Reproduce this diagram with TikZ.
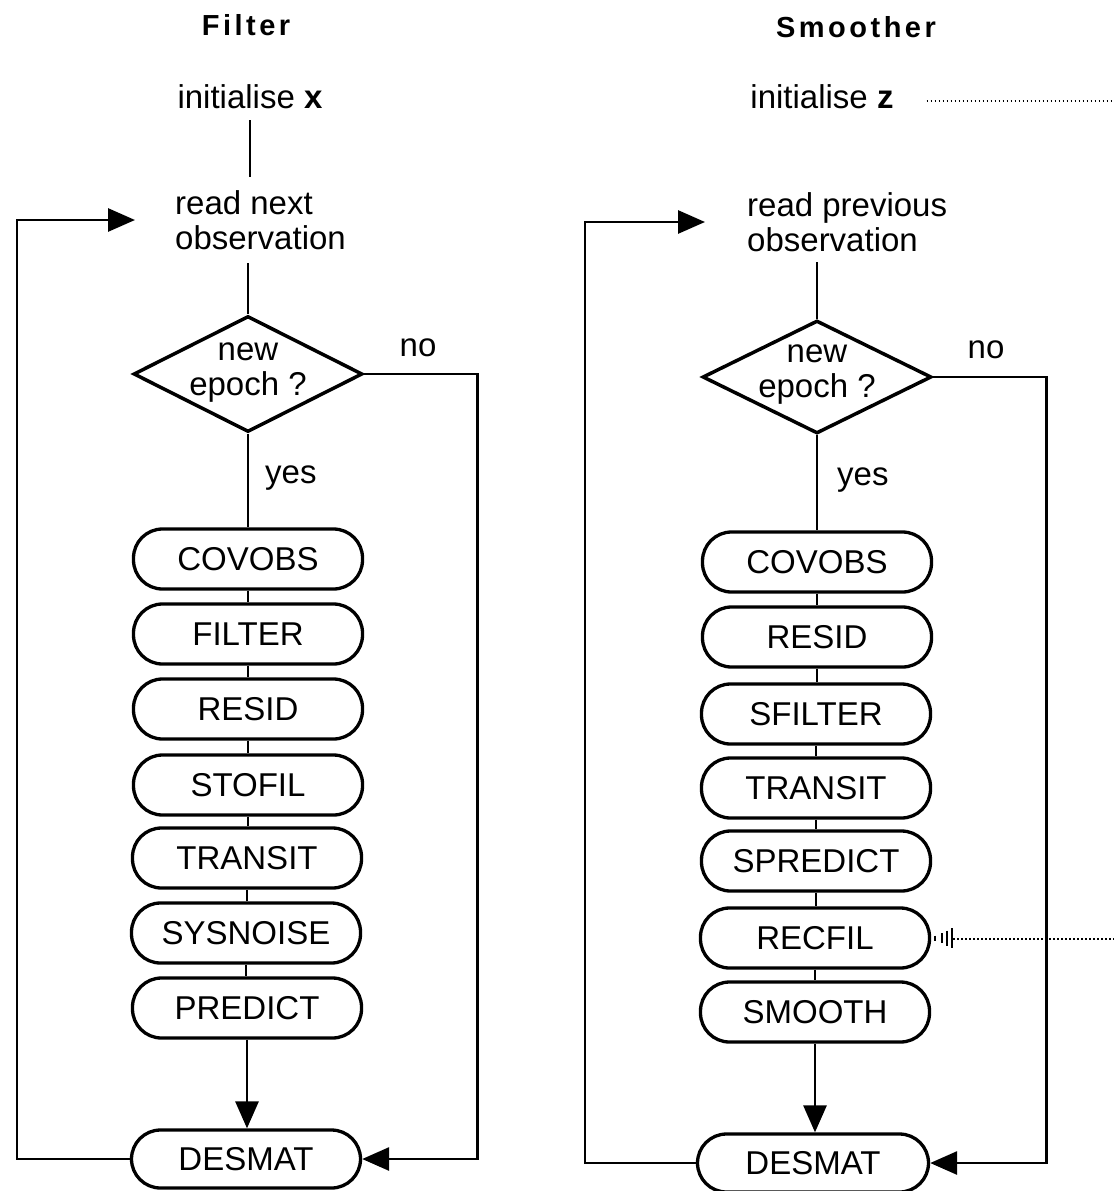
\documentclass[tikz,border=0pt]{standalone}
\usepackage{fontspec}
\setmainfont{Liberation Sans}
\usetikzlibrary{shapes.geometric,arrows.meta}
\newcommand{\lbl}{\fontsize{33}{35}\selectfont}
\newcommand{\ttl}{\fontsize{29}{33}\selectfont\bfseries\addfontfeatures{LetterSpace=12}}
\begin{document}
\begin{tikzpicture}[x=1pt,y=-1pt,
  proc/.style={draw,line width=3.3pt,rounded corners=29pt,minimum width=229pt,
    minimum height=60pt,inner sep=0pt,font=\lbl},
  decision/.style={draw,diamond,line width=3.5pt,inner sep=0pt,minimum width=229pt,
    minimum height=116pt},
  txt/.style={inner sep=0pt,font=\lbl},
  title/.style={inner sep=0pt,font=\ttl},
  conn/.style={line width=2.9pt},
  arr/.style={conn,-{Triangle[length=27pt,width=23pt]}},
  dotline/.style={line width=2.2pt,dash pattern=on 1.4pt off 2.6pt}]
\useasboundingbox (0,0) rectangle (1114,1191);

% ---------------- Filter ----------------
\node[title] (ftitle) at (246,25) {Filter};
\node[txt,minimum height=46pt] (ix) at (250,97) {initialise \textbf{x}};
\node[txt,align=left,anchor=west,minimum height=86pt] (rn) at (175,220) {read next\\observation};
\node[decision] (d1) at (248,374) {};
\node[txt,align=center] (d1t) at (248,373) {new\\epoch ?};
\node[txt] (fno) at (418,348) {no};
\node[txt,anchor=west] (fyes) at (265,478) {yes};

\node[proc] (f1) at (248,559) {COVOBS};
\node[proc] (f2) at (248,634) {FILTER};
\node[proc] (f3) at (248,709) {RESID};
\node[proc] (f4) at (248,785) {STOFIL};
\node[proc] (f5) at (247,858) {TRANSIT};
\node[proc] (f6) at (246,933) {SYSNOISE};
\node[proc] (f7) at (247,1008) {PREDICT};
\node[proc,minimum height=58pt] (fd) at (246,1159) {DESMAT};
\coordinate (fL) at (17,220);

\draw[conn] (ix.south) -- (ix.south |- rn.north);
\draw[conn] (d1.north |- rn.south) -- (d1.north);
\draw[conn] (d1.south) -- (f1.north);
\foreach \a/\b in {f1/f2,f2/f3,f3/f4,f4/f5,f5/f6,f6/f7}
  \draw[conn] (\a.south) -- (\a.south |- \b.north);
\draw[arr] (f7.south) -- (f7.south |- fd.north);
\draw[arr] (d1.east) -- ++(113,0) |- (fd.east);
\draw[arr,shorten >=40pt] (fd.west) -| (fL) -- (rn.west);

% ---------------- Smoother ----------------
\node[title] (stitle) at (856,27) {Smoother};
\node[txt,minimum height=46pt] (iz) at (822,97) {initialise \textbf{z}};
\node[txt,align=left,anchor=west,minimum height=80pt] (rp) at (747,222) {read previous\\observation};
\node[decision,minimum height=113pt] (d2) at (817,377) {};
\node[txt,align=center] (d2t) at (817,375) {new\\epoch ?};
\node[txt] (sno) at (986,350) {no};
\node[txt,anchor=west] (syes) at (837,480) {yes};

\node[proc] (s1) at (817,562) {COVOBS};
\node[proc] (s2) at (817,637) {RESID};
\node[proc] (s3) at (816,714) {SFILTER};
\node[proc] (s4) at (816,788) {TRANSIT};
\node[proc] (s5) at (816,861) {SPREDICT};
\node[proc] (s6) at (815,938) {RECFIL};
\node[proc] (s7) at (815,1012) {SMOOTH};
\node[proc,minimum height=58pt,minimum width=231pt] (sd) at (813,1163) {DESMAT};
\coordinate (sL) at (585,222);
\coordinate (zR) at (1114,101);
\coordinate (rR) at (1114,939);

\draw[conn] (d2.north |- rp.south) -- (d2.north);
\draw[conn] (d2.south) -- (s1.north);
\foreach \a/\b in {s1/s2,s2/s3,s3/s4,s4/s5,s5/s6,s6/s7}
  \draw[conn] (\a.south) -- (\a.south |- \b.north);
\draw[arr] (s7.south) -- (s7.south |- sd.north);
\draw[arr] (d2.east) -- ++(113,0) |- (sd.east);
\draw[arr,shorten >=42pt] (sd.west) -| (sL) -- (rp.west);

% dotted links leaving to the right
\draw[dotline] ([xshift=33pt,yshift=-4pt]iz.east) -- (zR);
\draw[dotline] ([xshift=22pt,yshift=-1pt]s6.east) -- (rR);
\foreach \dx/\h in {4/2.5,11/5,16/7.5,21/10}
  \draw[line width=1.6pt] ([xshift=\dx pt,yshift=\h pt]s6.east) -- ([xshift=\dx pt,yshift=-\h pt]s6.east);
\end{tikzpicture}
\end{document}
